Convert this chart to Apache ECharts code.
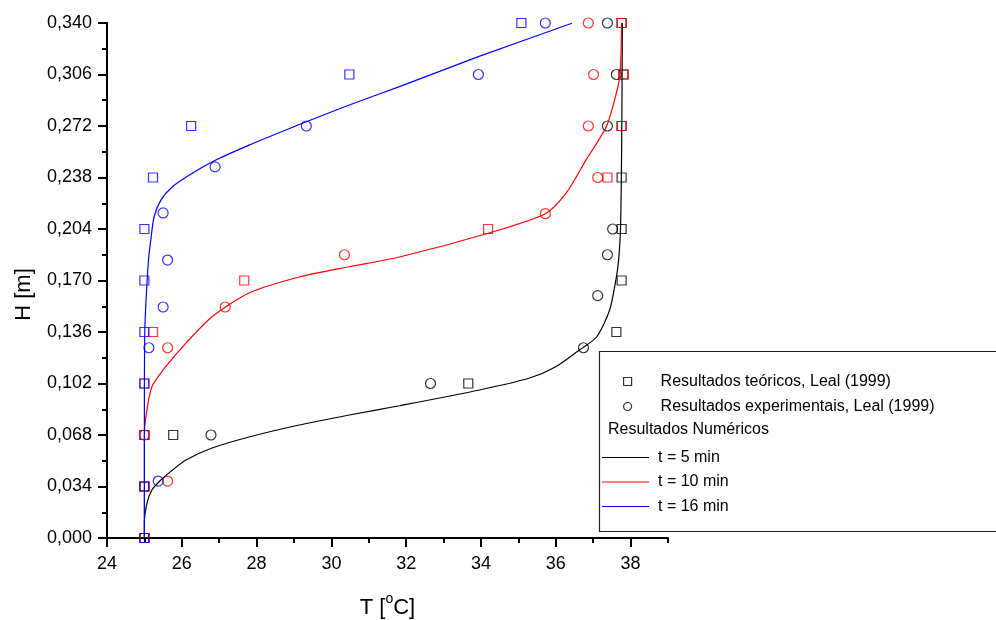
<!DOCTYPE html>
<html>
<head>
<meta charset="utf-8">
<title>Perfil de temperatura</title>
<script src="https://cdn.jsdelivr.net/npm/echarts@6/dist/echarts.min.js"></script>
<style>
  html, body { margin: 0; padding: 0; background: #fff; }
  #chart { width: 996px; height: 620px; }
</style>
</head>
<body>
<div id="chart"></div>
<script>
// Alturas das medições teóricas [m]
const alturasTeoricas = [0, 0.034, 0.068, 0.102, 0.136, 0.170, 0.204, 0.238, 0.272, 0.306, 0.340];

// Resultados teóricos, Leal (1999): temperatura [°C] em cada altura
const teorico5 = [25.0, 25.0, 25.77, 33.66, 37.62, 37.76, 37.76, 37.76, 37.76, 37.81, 37.76];
const teorico10 = [25.0, 25.0, 25.0, 25.0, 25.23, 27.67, 34.19, 37.38, 37.76, 37.81, 37.76];
const teorico16 = [25.0, 25.0, 25.0, 25.0, 25.0, 25.0, 25.0, 25.23, 26.25, 30.48, 35.08];

// Resultados experimentais, Leal (1999): [T, H]
const experimental5 = [[26.78, 0.068], [32.65, 0.102], [36.74, 0.1256], [37.12, 0.160], [37.38, 0.187],
  [37.52, 0.204], [37.38, 0.272], [37.62, 0.306], [37.38, 0.340]];
const experimental10 = [[25.62, 0.0376], [25.0, 0.068], [25.62, 0.1256], [27.16, 0.1525], [30.35, 0.187],
  [35.72, 0.2141], [37.12, 0.238], [36.87, 0.272], [37.01, 0.306], [36.87, 0.340]];
const experimental16 = [[25.37, 0.0376], [25.12, 0.1256], [25.50, 0.1525], [25.62, 0.1835], [25.50, 0.2146],
  [26.89, 0.245], [29.33, 0.272], [33.93, 0.306], [35.72, 0.340]];

// Resultados numéricos: perfis [T, H]
const numerico5 = [[25.0, 0], [25.0, 0.010], [25.07, 0.023], [25.2, 0.0317], [25.44, 0.0383], [25.70, 0.0438],
  [26.11, 0.0515], [26.81, 0.0594], [27.8, 0.0667], [29.14, 0.0746], [30.48, 0.0812], [31.82, 0.0873],
  [33.96, 0.0977], [35.3, 0.1056], [36.0, 0.1130], [36.63, 0.1241], [37.09, 0.1327], [37.44, 0.1505],
  [37.62, 0.1723], [37.68, 0.1835], [37.73, 0.204], [37.76, 0.256], [37.78, 0.340]];
const numerico10 = [[25.0, 0], [25.0, 0.068], [25.04, 0.0801], [25.20, 0.0999], [25.57, 0.1131],
  [26.11, 0.1287], [26.81, 0.1461], [27.8, 0.1617], [29.14, 0.1723], [30.48, 0.1791], [31.82, 0.1855],
  [34.19, 0.2012], [35.72, 0.2141], [36.28, 0.2278], [36.81, 0.2496], [37.35, 0.2715], [37.62, 0.2938],
  [37.72, 0.3070], [37.76, 0.340]];
const numerico16 = [[25.0, 0], [25.0, 0.100], [25.01, 0.136], [25.04, 0.1551], [25.11, 0.1835],
  [25.17, 0.1967], [25.26, 0.2121], [25.44, 0.2231], [25.75, 0.2319], [26.28, 0.2408], [26.91, 0.2495],
  [27.80, 0.2594], [29.33, 0.2748], [30.48, 0.2859], [31.82, 0.2980], [33.93, 0.3178], [36.43, 0.3398]];

// Rótulos dos eixos
const rotulosT = [24, 26, 28, 30, 32, 34, 36, 38];
const nomesLegenda = ['Resultados teóricos, Leal (1999)', 'Resultados experimentais, Leal (1999)'];
const nomesTempos = ['t = 5 min', 't = 10 min', 't = 16 min'];

const FONT = 'Liberation Sans, Arial, sans-serif';
const cores = ['#000000', '#ff0000', '#0000ff'];
const squarePath = 'path://M0,0H10V10H0Z';

const pares = (ts) => ts.map((t, i) => [t, alturasTeoricas[i]]);

function quadrados(nome, ts, cor) {
  return {
    name: nome, type: 'scatter', symbol: 'rect', symbolSize: 9,
    data: pares(ts), z: 3,
    itemStyle: { color: 'rgba(0,0,0,0)', borderColor: cor, borderWidth: 1.2 },
    emphasis: { disabled: true }
  };
}
function circulos(nome, pts, cor) {
  return {
    name: nome, type: 'scatter', symbol: 'circle', symbolSize: 10,
    data: pts, z: 4,
    itemStyle: { color: 'rgba(0,0,0,0)', borderColor: cor, borderWidth: 1.2 },
    emphasis: { disabled: true }
  };
}
function perfil(nome, pts, cor) {
  return {
    name: nome, type: 'line', data: pts, symbol: 'none', showSymbol: false,
    smooth: 0.25, z: 5,
    lineStyle: { color: cor, width: 1.2 },
    itemStyle: { color: cor },
    emphasis: { disabled: true }
  };
}

const chart = echarts.init(document.getElementById('chart'), null, { renderer: 'canvas' });

const option = {
  backgroundColor: '#ffffff',
  animation: false,
  textStyle: { fontFamily: FONT },
  grid: { left: 107, top: 23, right: 328, bottom: 82, containLabel: false, outerBoundsMode: 'none' },
  xAxis: [
    {
      type: 'value', min: 24, max: 39, interval: 1,
      name: 'T [{sup|o}C]', nameLocation: 'middle', nameGap: 54,
      nameTextStyle: {
        fontSize: 22, color: '#000', fontFamily: FONT,
        rich: { sup: { fontSize: 14, color: '#000', fontFamily: FONT, padding: [0, 0, 18, 0] } }
      },
      axisLine: { show: true, onZero: false, lineStyle: { color: '#000', width: 2 } },
      axisTick: { show: true, length: 5, lineStyle: { color: '#000', width: 2 } },
      axisLabel: {
        margin: 17, fontSize: 18, color: '#000', fontFamily: FONT,
        formatter: (v) => (rotulosT.indexOf(v) >= 0 ? String(v) : '')
      },
      splitLine: { show: false }
    },
    {
      type: 'value', min: 24, max: 39, position: 'bottom',
      axisLine: { show: false },
      axisTick: { show: true, length: 9, customValues: rotulosT, lineStyle: { color: '#000', width: 2 } },
      axisLabel: { show: false },
      splitLine: { show: false }
    }
  ],
  yAxis: {
    type: 'value', min: 0, max: 0.340, interval: 0.034,
    name: 'H [m]', nameLocation: 'middle', nameRotate: 90, nameGap: 72,
    nameTextStyle: { fontSize: 22, color: '#000', fontFamily: FONT, padding: [0, 28, 0, 0] },
    axisLine: { show: true, onZero: false, lineStyle: { color: '#000', width: 2 } },
    axisTick: { show: true, length: 9, lineStyle: { color: '#000', width: 2 } },
    minorTick: { show: true, splitNumber: 2, length: 5, lineStyle: { color: '#000', width: 2 } },
    axisLabel: {
      margin: 15, fontSize: 18, color: '#000', fontFamily: FONT,
      formatter: (v) => v.toFixed(3).replace('.', ',')
    },
    splitLine: { show: false },
    minorSplitLine: { show: false }
  },
  legend: [
    {
      orient: 'vertical', left: 623, top: 371.5, padding: 0,
      itemWidth: 48, itemHeight: 8, itemGap: 5,
      selectedMode: false,
      textStyle: { fontSize: 16, color: '#000', fontFamily: FONT, lineHeight: 20, padding: [0, 0, 0, 4] },
      data: [
        { name: nomesLegenda[0], icon: squarePath,
          itemStyle: { color: 'rgba(0,0,0,0)', borderColor: '#000', borderWidth: 1.2 } },
        { name: nomesLegenda[1], icon: 'circle',
          itemStyle: { color: 'rgba(0,0,0,0)', borderColor: '#000', borderWidth: 1.2 } }
      ]
    },
    {
      orient: 'vertical', left: 602, top: 447.5, padding: 0,
      itemWidth: 47, itemHeight: 1.2, itemGap: 4.5,
      selectedMode: false,
      textStyle: { fontSize: 16, color: '#000', fontFamily: FONT, lineHeight: 20, padding: [0, 0, 0, 4] },
      data: nomesTempos.map((n) => ({ name: n, icon: 'rect' }))
    }
  ],
  graphic: [
    {
      type: 'rect', z: 3, silent: true,
      shape: { x: 599.5, y: 351.5, width: 420, height: 180 },
      style: { fill: '#fff', stroke: '#222', lineWidth: 1.2 }
    },
    {
      type: 'text', z: 6, silent: true, x: 608, y: 430,
      style: { text: 'Resultados Numéricos', font: '16px ' + FONT, fill: '#000', verticalAlign: 'middle' }
    }
  ],
  series: [
    // entradas da legenda para os símbolos
    { name: nomesLegenda[0], type: 'scatter', data: [], symbol: squarePath,
      itemStyle: { color: 'rgba(0,0,0,0)', borderColor: '#000', borderWidth: 1.2 } },
    { name: nomesLegenda[1], type: 'scatter', data: [], symbol: 'circle',
      itemStyle: { color: 'rgba(0,0,0,0)', borderColor: '#000', borderWidth: 1.2 } },
    quadrados('Teórico 5 min', teorico5, cores[0]),
    quadrados('Teórico 10 min', teorico10, cores[1]),
    quadrados('Teórico 16 min', teorico16, cores[2]),
    circulos('Experimental 5 min', experimental5, cores[0]),
    circulos('Experimental 10 min', experimental10, cores[1]),
    circulos('Experimental 16 min', experimental16, cores[2]),
    perfil(nomesTempos[0], numerico5, cores[0]),
    perfil(nomesTempos[1], numerico10, cores[1]),
    perfil(nomesTempos[2], numerico16, cores[2])
  ]
};

chart.setOption(option);
</script>
</body>
</html>
